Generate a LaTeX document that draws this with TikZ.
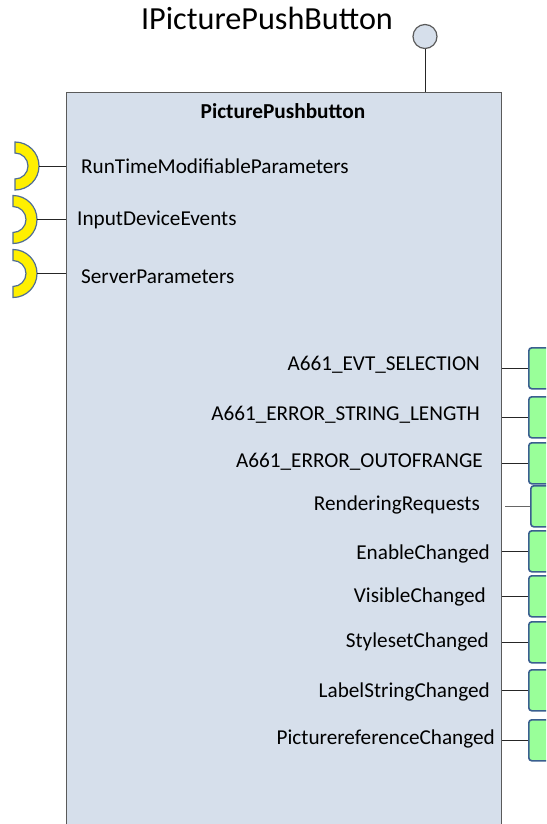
\documentclass[tikz,border=0pt]{standalone}
\usepackage{fontspec}
\setmainfont{Carlito}
\usetikzlibrary{calc}
\definecolor{boxfill}{RGB}{214,223,235}
\definecolor{boxline}{RGB}{90,90,90}
\definecolor{portfill}{RGB}{153,255,153}
\definecolor{portline}{RGB}{58,95,143}
\definecolor{ringfill}{RGB}{255,240,0}
\definecolor{ringline}{RGB}{80,110,150}
\definecolor{ifacefill}{RGB}{214,223,235}
\begin{document}
\begin{tikzpicture}[x=1pt,y=-1pt,
  mainbox/.style={draw=boxline, fill=boxfill, line width=1.3pt, inner sep=0pt, anchor=north west,
    minimum width=435pt, minimum height=760pt},
  portbox/.style={draw=portline, fill=portfill, line width=1.6pt, rounded corners=3pt, inner sep=0pt,
    anchor=north west, minimum width=34pt, minimum height=41pt},
  lbl/.style={font=\fontsize{21.2}{25}\selectfont, inner sep=0pt},
  conn/.style={draw=black!85, line width=1pt},
  ring/.style={draw=ringline, fill=ringfill, line width=1.2pt}]
\useasboundingbox (0,0) rectangle (546,824);
\clip (0,0) rectangle (546,824);

% title and interface lollipop
\node[font=\fontsize{32.2}{38}\selectfont, anchor=base, inner sep=0pt] (title) at (267,29.6) {IPicturePushButton};
\node[mainbox] (main) at (66,92) {};
\node[circle, draw=boxline, fill=ifacefill, line width=1.2pt, minimum size=24pt, inner sep=0pt] (iface) at (425,36.5) {};
\draw[conn] (iface.south) -- (iface.south |- main.north);
\node[font=\bfseries\fontsize{21.3}{25}\selectfont, anchor=base, inner sep=0pt] (hdr) at (283,119) {PicturePushbutton};

% left required interfaces
\foreach \i/\cx/\cy in {1/15/166, 2/13/219.5, 3/13/273.5}{
  \draw[ring] (\cx,\cy-24) arc[start angle=-90, end angle=90, radius=24]
     -- (\cx,\cy+13) arc[start angle=90, end angle=-90, radius=13] -- cycle;
  \coordinate (r\i) at (\cx+24,\cy);
}
\draw[conn] (r1) -- (r1 -| main.west);
\draw[conn] (r2) -- (r2 -| main.west);
\draw[conn] (r3) -- (r3 -| main.west);
\node[lbl, anchor=base west] (ll1) at (81,173.3) {RunTimeModifiableParameters};
\node[lbl, anchor=base west] (ll2) at (77,225.5) {InputDeviceEvents};
\node[lbl, anchor=base west] (ll3) at (81,283) {ServerParameters};

% right ports
\node[portbox] (p1) at (528,347) {};
\node[portbox] (p2) at (528,396) {};
\node[portbox] (p3) at (528,442) {};
\node[portbox] (p4) at (530,485) {};
\node[portbox] (p5) at (528,530) {};
\node[portbox] (p6) at (528,575) {};
\node[portbox] (p7) at (528,621) {};
\node[portbox] (p8) at (528,669) {};
\node[portbox] (p9) at (528,719) {};
\foreach \p in {p1,p2,p3,p5,p6,p7,p8,p9}{
  \draw[conn] (main.east |- \p.west) -- (\p.west);
}
\draw[conn, draw=black!60] ($(main.east |- p4.west)+(3,0)$) -- (p4.west);

\node[lbl, anchor=base east] (t1) at (480,370.7) {A661\_EVT\_SELECTION};
\node[lbl, anchor=base east] (t2) at (480,420) {A661\_ERROR\_STRING\_LENGTH};
\node[lbl, anchor=base east] (t3) at (483,467) {A661\_ERROR\_OUTOFRANGE};
\node[lbl, anchor=base east] (t4) at (480,510) {RenderingRequests};
\node[lbl, anchor=base east] (t5) at (490,559) {EnableChanged};
\node[lbl, anchor=base east] (t6) at (486,602) {VisibleChanged};
\node[lbl, anchor=base east] (t7) at (489,647) {StylesetChanged};
\node[lbl, anchor=base east] (t8) at (490,697) {LabelStringChanged};
\node[lbl, anchor=base east] (t9) at (495,744) {PicturereferenceChanged};
\end{tikzpicture}
\end{document}
